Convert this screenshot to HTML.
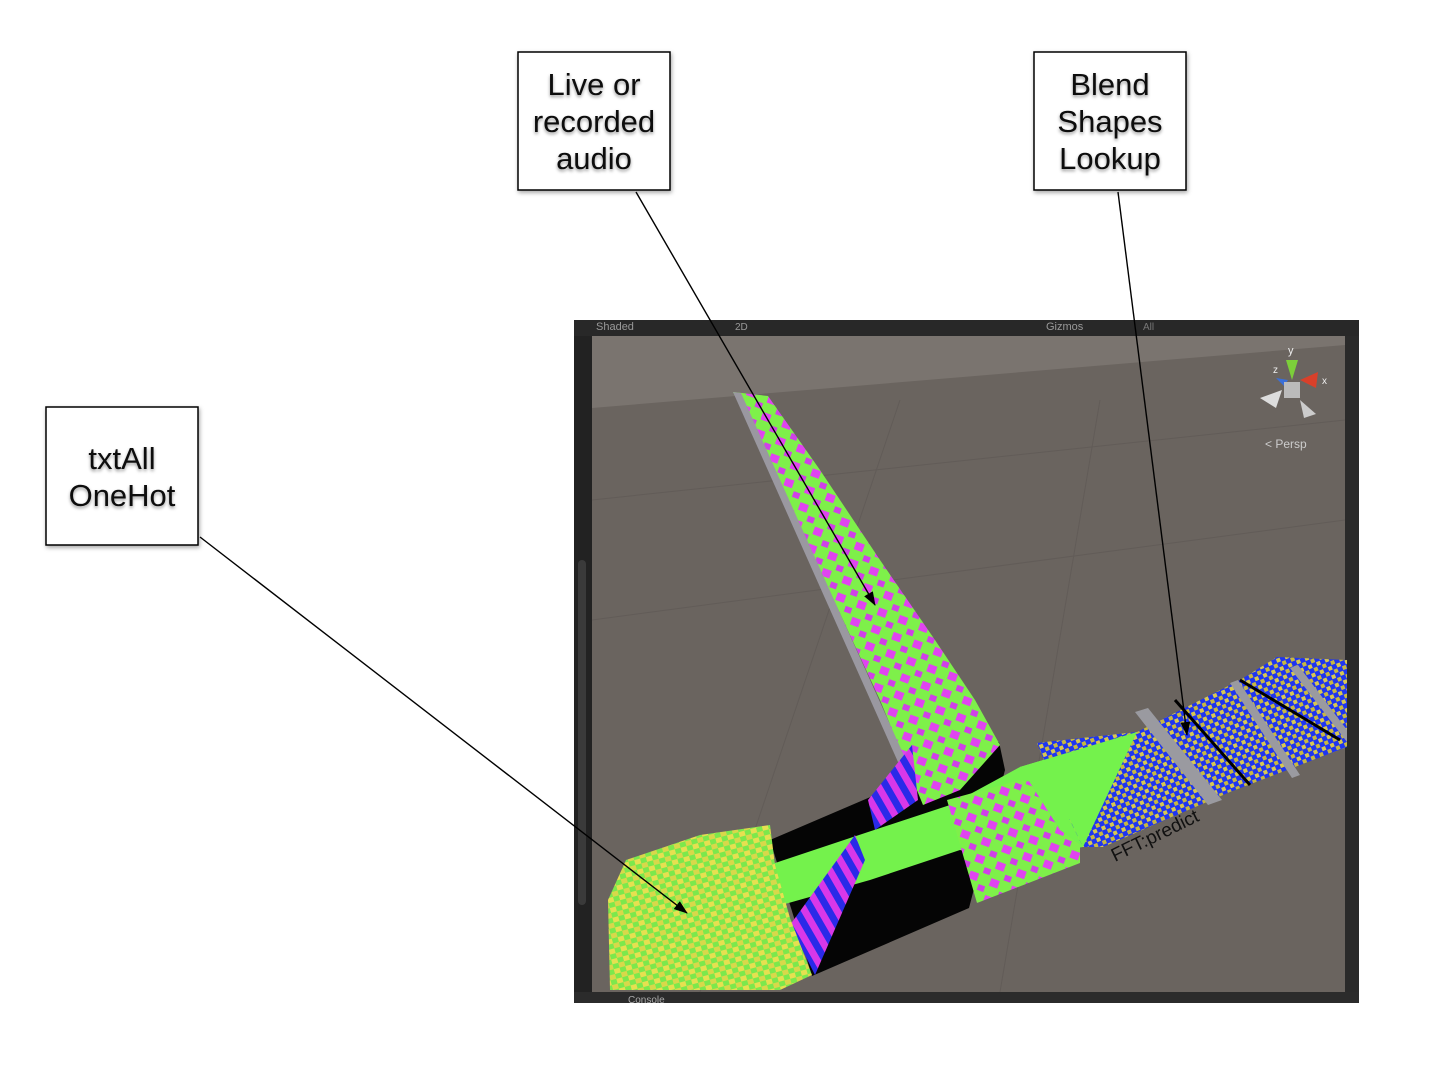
<!DOCTYPE html>
<html><head><meta charset="utf-8"><style>
html,body{margin:0;padding:0;background:#fff;}
svg{display:block;}
.lbl{font-family:"Liberation Sans",sans-serif;font-size:31px;fill:#111;text-anchor:middle;}
</style></head><body>
<svg width="1430" height="1084" viewBox="0 0 1430 1084" xmlns="http://www.w3.org/2000/svg">
<defs>
<filter id="sh" x="-20%" y="-20%" width="140%" height="140%"><feDropShadow dx="1" dy="2" stdDeviation="2" flood-color="#000" flood-opacity="0.35"/></filter>
<filter id="ts"><feDropShadow dx="0" dy="2" stdDeviation="1.5" flood-color="#000" flood-opacity="0.4"/></filter>
<marker id="ah" markerWidth="14" markerHeight="10" refX="13" refY="5" orient="auto" markerUnits="userSpaceOnUse"><path d="M0,0 L14,5 L0,10 z" fill="#000"/></marker>
<pattern id="yg" width="12" height="10" patternUnits="userSpaceOnUse" patternTransform="rotate(-15)"><rect width="12" height="10" fill="#7ce84c"/><rect width="6" height="5" fill="#d8d84a"/><rect x="6" y="5" width="6" height="5" fill="#e6e050"/></pattern>
<pattern id="gm" width="22" height="18" patternUnits="userSpaceOnUse" patternTransform="rotate(20)"><rect width="22" height="18" fill="#7ef04a"/><rect width="9" height="8" fill="#e044f0"/><rect x="12" y="10" width="7" height="6" fill="#d040e8"/></pattern>
<pattern id="by" width="9" height="9" patternUnits="userSpaceOnUse" patternTransform="rotate(-22)"><rect width="9" height="9" fill="#1f35f0"/><rect width="4" height="4" fill="#d8c850"/><rect x="4.5" y="4.5" width="4" height="4" fill="#c8b840"/></pattern>
<pattern id="bm" width="14" height="10" patternUnits="userSpaceOnUse" patternTransform="rotate(-30)"><rect width="14" height="10" fill="#2a2ae8"/><rect width="7" height="10" fill="#d838e8"/></pattern>
</defs>

<rect x="574" y="320" width="785" height="683" fill="#222"/>
<rect x="592" y="336" width="753" height="656" fill="#6a645f"/>
<polygon points="592,336 1345,336 1345,345 592,408" fill="#7a746f"/>
<rect x="574" y="320" width="785" height="16" fill="#282828"/>
<text x="596" y="330" font-family="Liberation Sans,sans-serif" font-size="11" fill="#999">Shaded</text>
<text x="735" y="330" font-family="Liberation Sans,sans-serif" font-size="10" fill="#999">2D</text>
<text x="1046" y="330" font-family="Liberation Sans,sans-serif" font-size="11" fill="#999">Gizmos</text>
<text x="1143" y="330" font-family="Liberation Sans,sans-serif" font-size="10" fill="#777">All</text>
<rect x="578" y="560" width="8" height="345" rx="4" fill="#3a3a3a"/>
<rect x="574" y="992" width="785" height="11" fill="#2b2b2b"/>
<text x="628" y="1003" font-family="Liberation Sans,sans-serif" font-size="10" fill="#aaa">Console</text>
<rect x="1345" y="336" width="14" height="656" fill="#2a2a2a"/>

<g stroke="#625c58" stroke-width="1">
<line x1="592" y1="500" x2="1345" y2="420"/><line x1="592" y1="620" x2="1345" y2="520"/>
<line x1="700" y1="992" x2="900" y2="400"/><line x1="1000" y1="992" x2="1100" y2="400"/>
</g>

<g>
<polygon points="1286,360 1298,360 1292,380" fill="#7ccf3a"/>
<polygon points="1300,380 1318,372 1316,388" fill="#d8402a"/>
<polygon points="1276,378 1288,380 1284,386" fill="#3a6fd8"/>
<polygon points="1260,398 1282,390 1276,408" fill="#ddd"/>
<polygon points="1300,400 1316,414 1304,418" fill="#ccc"/>
<rect x="1284" y="382" width="16" height="16" fill="#bbb"/>
<text x="1288" y="354" font-family="Liberation Sans,sans-serif" font-size="11" fill="#eee">y</text>
<text x="1273" y="373" font-family="Liberation Sans,sans-serif" font-size="10" fill="#eee">z</text>
<text x="1322" y="384" font-family="Liberation Sans,sans-serif" font-size="10" fill="#eee">x</text>
<text x="1265" y="448" font-family="Liberation Sans,sans-serif" font-size="12" fill="#ccc">&lt; Persp</text>
</g>

<!-- black floor -->
<polygon points="770,840 999,742 1005,770 969,908 812,976" fill="#050505"/>
<!-- tall spike -->
<polygon points="733,392 768,396 820,470 880,560 935,640 975,700 1000,745 960,790 923,805 880,700 820,570 770,470" fill="url(#gm)"/>
<polygon points="733,392 741,393 906,760 898,762" fill="#9a98a0"/>
<!-- stripes -->
<polygon points="868,800 912,745 918,800 875,830" fill="url(#bm)"/>
<!-- green wall -->
<polygon points="706,886 850,838 950,805 1020,767 1137,732 1083,847 1000,860 960,850 870,880 721,922" fill="#74f24c"/>
<!-- green/magenta block under -->
<polygon points="947,800 1020,780 1080,790 1080,863 977,903" fill="url(#gm)"/>
<polygon points="1020,767 1137,732 1083,847 1060,830" fill="#74f24c"/>
<polygon points="790,925 855,835 865,860 815,975" fill="url(#bm)"/>
<!-- yellow-green block -->
<polygon points="626,860 700,835 770,825 775,865 790,918 812,975 780,990 610,990 608,900" fill="url(#yg)"/>
<!-- right blue/yellow block -->
<polygon points="1037,743 1137,732 1240,680 1277,657 1347,660 1347,747 1230,792 1103,847 1083,847" fill="url(#by)"/>
<polygon points="1037,743 1137,732 1083,847 1060,800" fill="url(#by)"/>
<polygon points="1020,767 1137,732 1083,847 1070,820" fill="#74f24c"/>
<polygon points="1135,712 1148,708 1222,800 1208,805" fill="#9a9aa0"/>
<polygon points="1230,683 1238,680 1300,775 1292,778" fill="#9a9aa0"/>
<polygon points="1290,668 1298,665 1347,730 1347,742" fill="#9a9aa0"/>
<line x1="1240" y1="680" x2="1340" y2="740" stroke="#000" stroke-width="3"/>
<line x1="1175" y1="700" x2="1250" y2="785" stroke="#000" stroke-width="3"/>
<text x="1115" y="862" font-family="Liberation Sans,sans-serif" font-size="19" fill="#111" transform="rotate(-26 1115 862)">FFT:predict</text>

<g stroke="#000" stroke-width="1.4" fill="none">
<line x1="636" y1="192" x2="875" y2="605" marker-end="url(#ah)"/>
<line x1="1118" y1="192" x2="1187" y2="735" marker-end="url(#ah)"/>
<line x1="200" y1="537" x2="687" y2="913" marker-end="url(#ah)"/>
</g>

<g filter="url(#sh)">
<rect x="518" y="52" width="152" height="138" fill="#fff" stroke="#000" stroke-width="1.5"/>
<rect x="1034" y="52" width="152" height="138" fill="#fff" stroke="#000" stroke-width="1.5"/>
<rect x="46" y="407" width="152" height="138" fill="#fff" stroke="#000" stroke-width="1.5"/>
</g>
<g filter="url(#ts)">
<text class="lbl" x="594" y="95">Live or</text>
<text class="lbl" x="594" y="132">recorded</text>
<text class="lbl" x="594" y="169">audio</text>
<text class="lbl" x="1110" y="95">Blend</text>
<text class="lbl" x="1110" y="132">Shapes</text>
<text class="lbl" x="1110" y="169">Lookup</text>
<text class="lbl" x="122" y="469">txtAll</text>
<text class="lbl" x="122" y="506">OneHot</text>
</g>
</svg>
</body></html>
